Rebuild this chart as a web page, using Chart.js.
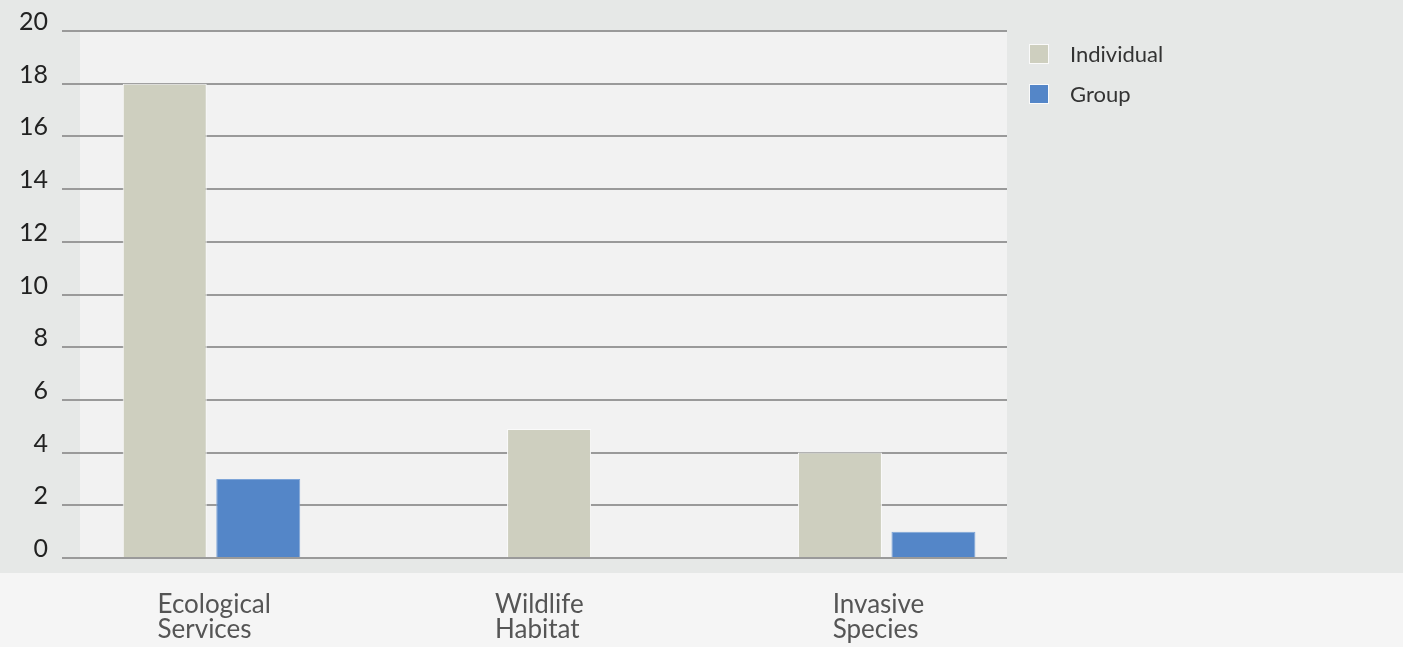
<!DOCTYPE html>
<html>
<head>
<meta charset="utf-8">
<title>Projects by focus area</title>
<script src="https://cdn.jsdelivr.net/npm/chart.js@4.4.1/dist/chart.umd.min.js"></script>
<style>
  html, body { margin: 0; padding: 0; background: #f5f5f5; }
  #wrap { position: relative; width: 1403px; height: 647px; }
</style>
</head>
<body>
<div id="wrap"><canvas id="chart"></canvas></div>
<script>
// ---- data ----
const categories = ['Ecological Services', 'Wildlife Habitat', 'Invasive Species'];
const individualValues = [18, 4.9, 4];
const groupValues = [3, null, 1];
const yTicks = [0, 2, 4, 6, 8, 10, 12, 14, 16, 18, 20];

const COLORS = {
  individual: '#cecfbf',
  group: '#5486c8',
  grid: '#9a9a9a',
  outer: '#e6e8e7',
  plot: '#f2f2f2',
  band: '#f5f5f5'
};

const points = vals => vals.map((v, i) => ({ x: i, y: v }));

// background bands: grey panel, lighter plot area, pale strip under the axis
const panels = {
  id: 'panels',
  beforeDraw(chart) {
    const { ctx, chartArea: a, width, height } = chart;
    ctx.save();
    ctx.fillStyle = COLORS.band;
    ctx.fillRect(0, 0, width, height);
    ctx.fillStyle = COLORS.outer;
    ctx.fillRect(0, 0, width, a.bottom + 15);
    ctx.fillStyle = COLORS.plot;
    ctx.fillRect(a.left, a.top, a.right - a.left, a.bottom - a.top);
    ctx.restore();
  }
};

// legend on the right of the plot
const sideLegend = {
  id: 'sideLegend',
  afterDraw(chart) {
    const { ctx, chartArea: a } = chart;
    ctx.save();
    chart.data.datasets.forEach((ds, i) => {
      const x = a.right + 22, y = a.top + 13 + i * 40;
      ctx.fillStyle = ds.backgroundColor;
      ctx.fillRect(x, y, 20, 20);
      ctx.strokeStyle = '#fafafa';
      ctx.lineWidth = 1;
      ctx.strokeRect(x + 0.5, y + 0.5, 19, 19);
      ctx.fillStyle = '#333';
      ctx.font = '22px Lato';
      ctx.textBaseline = 'middle';
      ctx.fillText(ds.label, x + 41, y + 11);
    });
    ctx.restore();
  }
};

function draw() {
  new Chart(document.getElementById('chart'), {
    type: 'bar',
    data: {
      datasets: [
        { label: 'Individual', data: points(individualValues), backgroundColor: COLORS.individual, borderColor: '#fafafa', borderWidth: 1 },
        { label: 'Group', data: points(groupValues), backgroundColor: COLORS.group, borderColor: '#7ea5d8', borderWidth: 1 }
      ]
    },
    options: {
      responsive: true,
      maintainAspectRatio: false,
      animation: false,
      layout: { padding: { left: 0, top: 31, right: 396, bottom: 0 } },
      datasets: {
        bar: { categoryPercentage: 0.554, barPercentage: 0.898, maxBarThickness: 84, skipNull: true }
      },
      plugins: { legend: { display: false }, tooltip: { enabled: false } },
      scales: {
        x: {
          type: 'linear',
          offset: false,
          bounds: 'data',
          min: -0.3895,
          max: 2.3564,
          afterBuildTicks: s => { s.ticks = categories.map((_, i) => ({ value: i })); },
          afterFit: s => { s.height = 89; },
          grid: { display: false, drawTicks: false, offset: false },
          border: { display: false },
          ticks: {
            autoSkip: false,
            maxRotation: 0,
            align: 'start',
            labelOffset: -54,
            padding: 34,
            color: '#555',
            font: { family: 'Lato', size: 26, lineHeight: 0.97 },
            callback: v => (categories[v] || '').split(' ')
          }
        },
        y: {
          min: 0,
          max: 20,
          afterBuildTicks: s => { s.ticks = yTicks.map(v => ({ value: v })); },
          afterFit: s => { s.width = 80; },
          grid: { color: COLORS.grid, lineWidth: 2, tickLength: 18, drawTicks: true },
          border: { display: false },
          ticks: {
            padding: 14,
            labelOffset: -9,
            color: '#222',
            font: { family: 'Lato', size: 25 }
          }
        }
      }
    },
    plugins: [panels, sideLegend]
  });
}

document.fonts.load('24px Lato').then(draw, draw);
</script>
</body>
</html>
